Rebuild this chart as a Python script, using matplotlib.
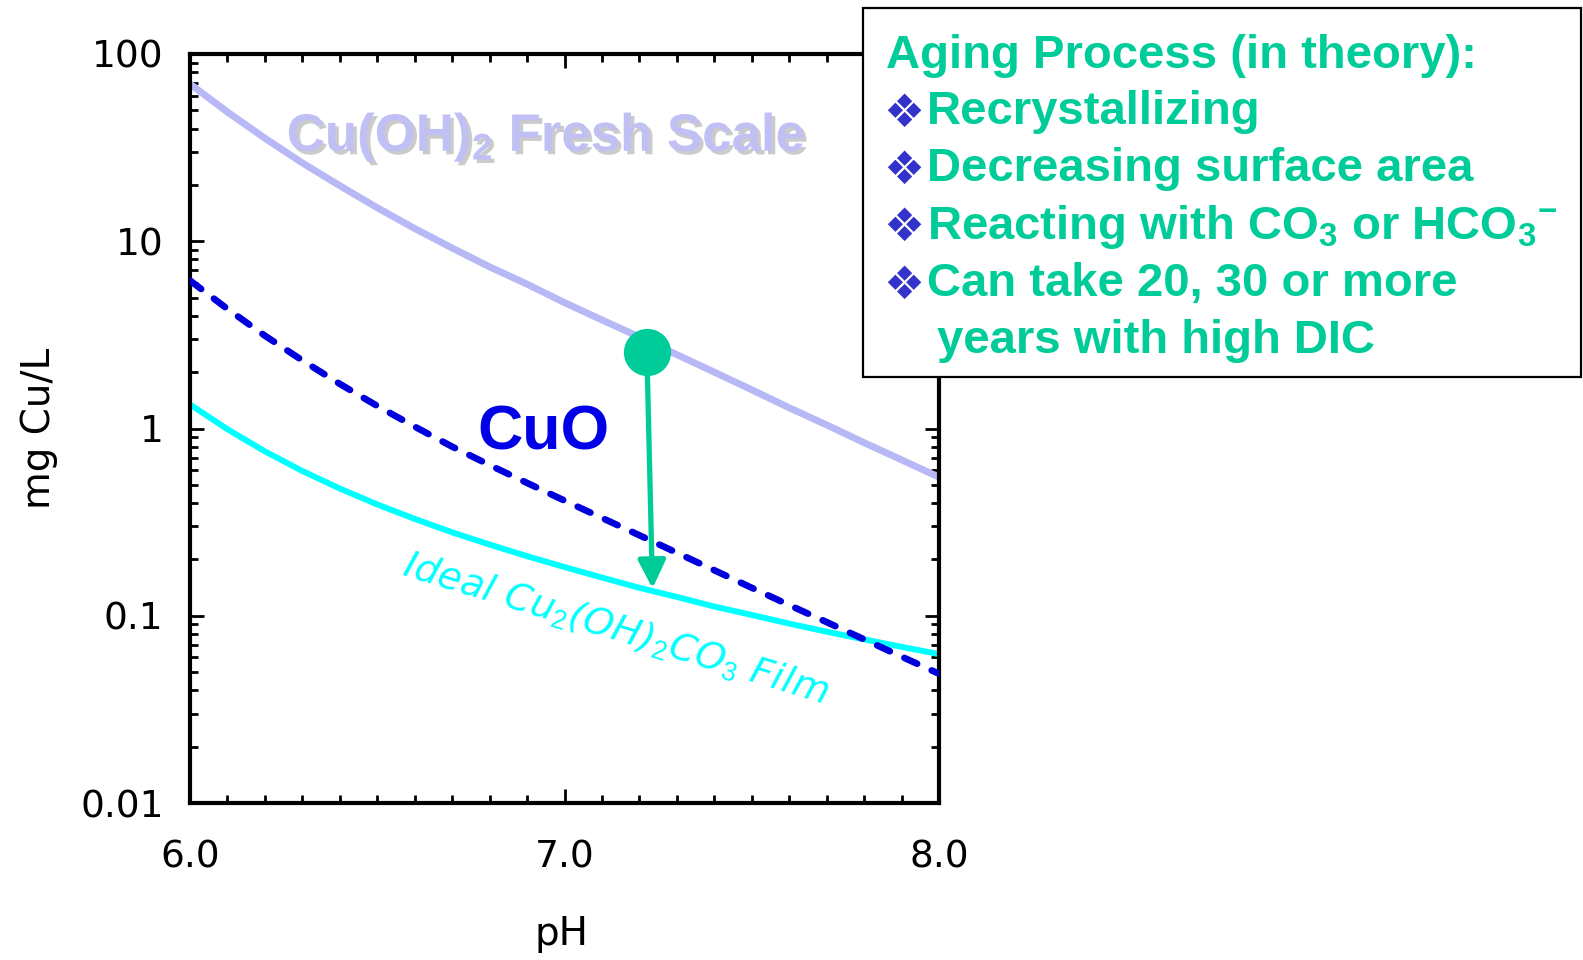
import numpy as np
import matplotlib.pyplot as plt
import matplotlib.patheffects as pe
from matplotlib.patches import Rectangle

plt.rcParams['mathtext.fontset'] = 'custom'
plt.rcParams['mathtext.rm'] = 'Liberation Sans'
plt.rcParams['mathtext.bf'] = 'Liberation Sans:bold'
plt.rcParams['mathtext.it'] = 'DejaVu Sans:italic'

# solubility curves, mg Cu/L vs pH
ph = [6.0, 6.1, 6.2, 6.3, 6.4, 6.5, 6.6, 6.7, 6.8, 6.9, 7.0,
      7.1, 7.2, 7.3, 7.4, 7.5, 7.6, 7.7, 7.8, 7.9, 8.0]
cu_oh2 = [69.2, 49.0, 35.5, 26.2, 19.8, 15.1, 11.7, 9.2, 7.3, 5.9, 4.7,
          3.8, 3.08, 2.48, 2.0, 1.61, 1.29, 1.045, 0.84, 0.68, 0.55]
cuo = [6.17, 4.35, 3.13, 2.31, 1.73, 1.32, 1.023, 0.80, 0.638, 0.512, 0.412,
       0.333, 0.269, 0.217, 0.175, 0.141, 0.114, 0.0925, 0.0748, 0.0605, 0.049]
malachite = [1.343, 0.991, 0.755, 0.593, 0.478, 0.393, 0.329, 0.279, 0.240, 0.208, 0.182,
             0.160, 0.141, 0.126, 0.112, 0.101, 0.0908, 0.0822, 0.0748, 0.0682, 0.0624]

# aging arrow: from fresh scale down to the film curve
age_ph = [7.22, 7.235]
age_cu = [2.55, 0.14]

yticks = [0.01, 0.1, 1, 10, 100]
ytick_labels = ['0.01', '0.1', '1', '10', '100']
xticks = [6.0, 7.0, 8.0]
xtick_labels = ['6.0', '7.0', '8.0']

box_lines = ['Recrystallizing',
             'Decreasing surface area',
             r'Reacting with CO$_\mathbf{3}$ or HCO$_\mathbf{3}{}^\mathbf{-}$',
             'Can take 20, 30 or more']

green = '#00cc99'
W, H = 1583, 960

fig = plt.figure(figsize=(W / 100, H / 100), dpi=100)
ax = fig.add_axes([190 / W, 1 - 803 / H, (939 - 190) / W, (803 - 54) / H])

ax.plot(ph, cu_oh2, color='#b8b8f6', lw=5, solid_capstyle='butt', zorder=2)
ax.plot(ph, malachite, color='#00ffff', lw=4.3, solid_capstyle='butt', zorder=2)
ax.plot(ph, cuo, color='#0000dd', lw=4.8, ls=(0, (2.1, 2.4)),
        dash_capstyle='round', zorder=3)

ax.annotate('', xy=(age_ph[1], age_cu[1]), xytext=(age_ph[0], age_cu[0]),
            arrowprops=dict(arrowstyle='-|>,head_length=0.85,head_width=0.42',
                            mutation_scale=20, color=green, lw=3.8,
                            shrinkA=0, shrinkB=0), zorder=4)
ax.plot(age_ph[0], age_cu[0], 'o', ms=34, color=green, mec='none', zorder=5)

ax.set_yscale('log')
ax.set_xlim(6, 8)
ax.set_ylim(0.01, 100)
ax.set_yticks(yticks)
ax.set_yticklabels(ytick_labels)
ax.set_yticks([m * d for d in yticks[:-1] for m in range(2, 10)], minor=True)
ax.set_xticks(xticks)
ax.set_xticklabels(xtick_labels)
ax.set_xticks(np.arange(6.1, 8.0, 0.1), minor=True)
ax.yaxis.set_minor_formatter(plt.NullFormatter())

for s in ax.spines.values():
    s.set_linewidth(3)
ax.tick_params(which='both', direction='in', top=True, right=True, width=2,
               labelsize=27)
ax.tick_params(axis='y', pad=19)
ax.tick_params(axis='x', pad=26)
ax.tick_params(which='major', length=10)
ax.tick_params(which='minor', length=5.5)

ax.text(6.95, 30.3, r'Cu(OH)$_\mathbf{2}$ Fresh Scale', ha='center', va='baseline',
        fontsize=38, fontweight='bold', family='Liberation Sans', color='#c0c0f4',
        path_effects=[pe.SimplePatchShadow(offset=(2.5, -2.5), shadow_rgbFace='#999999', alpha=0.5),
                      pe.Normal()], zorder=3)
ax.text(6.943, 0.77, 'CuO', ha='center', va='baseline', fontsize=45,
        fontweight='bold', family='Liberation Sans', color='#0000e6', zorder=6)
ax.text(7.137, 0.085, r'Ideal Cu$_\mathit{2}$(OH)$_\mathit{2}$CO$_\mathit{3}$ Film',
        ha='center', va='center', rotation=-17, rotation_mode='anchor',
        fontsize=27.5, style='italic', color='#00ffff', zorder=6)

fig.text(39 / W, 1 - 428 / H, 'mg Cu/L', rotation=90, ha='center', va='center',
         fontsize=28)
fig.text(562 / W, 1 - 934 / H, 'pH', ha='center', va='center', fontsize=28)

# text box on the right
fig.add_artist(Rectangle((863 / W, 1 - 377 / H), (1581 - 863) / W, (377 - 8) / H,
                         transform=fig.transFigure, facecolor='white',
                         edgecolor='black', lw=1.6, zorder=10))
fig.text(886 / W, 1 - 68 / H, 'Aging Process (in theory):', fontsize=34,
         fontweight='bold', family='Liberation Sans', color=green, zorder=11)
for i, line in enumerate(box_lines):
    base = 124 + 57.3 * i
    fig.text(904 / W, 1 - (base - 10) / H, '\u2756', fontsize=33, family='DejaVu Sans',
             ha='center', va='center', color='#3333cc', zorder=11)
    fig.text(927 / W, 1 - base / H, line, fontsize=34, fontweight='bold',
             family='Liberation Sans', color=green, zorder=11)
fig.text(937 / W, 1 - 353 / H, 'years with high DIC', fontsize=34,
         fontweight='bold', family='Liberation Sans', color=green, zorder=11)

fig.savefig('out.png', dpi=100, facecolor='white')
